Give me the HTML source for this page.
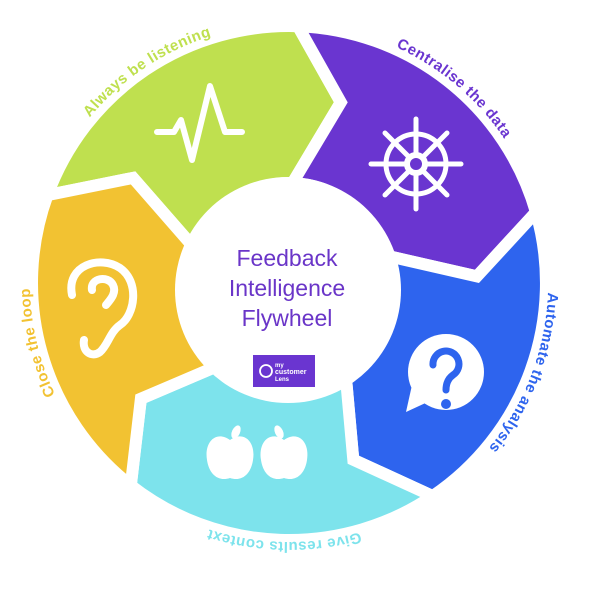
<!DOCTYPE html>
<html><head><meta charset="utf-8"><style>
html,body{margin:0;padding:0;background:#fff;}
svg{display:block;}
</style></head><body>
<svg id="s" width="603" height="591" viewBox="0 0 603 591" xmlns="http://www.w3.org/2000/svg">
<g id="segs"></g>
<circle cx="288" cy="290" r="113" fill="#fff"/>
<defs><path id="ring" d="M289,24 A259,259 0 1 1 289,542 A259,259 0 1 1 289,24"/></defs>
<g font-family="Liberation Sans, sans-serif" font-weight="bold" font-size="15" letter-spacing="0.5">
<text fill="#bfe04f" text-anchor="middle"><textPath href="#ring" startOffset="90.6%">Always be listening</textPath></text>
<text fill="#6a35d0" text-anchor="middle"><textPath href="#ring" startOffset="11.2%">Centralise the data</textPath></text>
<text fill="#2e64ee" text-anchor="middle"><textPath href="#ring" startOffset="30.8%">Automate the analysis</textPath></text>
<text fill="#7de3ec" text-anchor="middle"><textPath href="#ring" startOffset="50.3%">Give results context</textPath></text>
<text fill="#f2c232" text-anchor="middle"><textPath href="#ring" startOffset="71.3%">Close the loop</textPath></text>
</g>
<g font-family="Liberation Sans, sans-serif" font-size="23" fill="#6a35c8" text-anchor="middle">
<text x="287" y="266">Feedback</text>
<text x="287" y="296">Intelligence</text>
<text x="287" y="326">Flywheel</text>
</g>
<rect x="253" y="355" width="62" height="32" fill="#6a35d0"/>
<circle cx="266" cy="371" r="6" fill="none" stroke="#fff" stroke-width="1.8"/>
<text x="275" y="367" font-family="Liberation Sans, sans-serif" font-size="6" font-weight="bold" fill="#fff">my</text>
<text x="275" y="374" font-family="Liberation Sans, sans-serif" font-size="7" font-weight="bold" fill="#fff">customer</text>
<text x="275" y="381" font-family="Liberation Sans, sans-serif" font-size="6" font-weight="bold" fill="#fff">Lens</text>
<!-- pulse -->
<polyline points="157,132 174,132 181,120 192,160 210,86 225,132 242,132" fill="none" stroke="#fff" stroke-width="6" stroke-linecap="round" stroke-linejoin="round"/>
<!-- wheel -->
<g stroke="#fff" stroke-width="5" stroke-linecap="round" fill="none">
<circle cx="416" cy="164" r="30"/>
<line x1="416" y1="119" x2="416" y2="209"/>
<line x1="371" y1="164" x2="461" y2="164"/>
<line x1="385" y1="133" x2="447" y2="195"/>
<line x1="447" y1="133" x2="385" y2="195"/>
</g>
<circle cx="416" cy="164" r="12" fill="#fff"/>
<circle cx="416" cy="164" r="6" fill="#6a35d0"/>
<!-- question bubble -->
<circle cx="446" cy="372" r="38" fill="#fff"/>
<polygon points="412,385 406,412 432,400" fill="#fff"/>
<path d="M433,365 A13,13 0 1 1 453,375 Q446,380 446,390" fill="none" stroke="#2e64ee" stroke-width="7" stroke-linecap="round"/>
<circle cx="446" cy="404" r="5" fill="#2e64ee"/>
<!-- apples -->
<g fill="#fff">
<path d="M230,440 C216,430 204,442 207,460 C209,474 218,482 230,478 C242,482 251,474 253,460 C256,442 244,430 230,440Z"/>
<ellipse cx="236" cy="432" rx="4" ry="7" transform="rotate(25 236 432)"/>
<path d="M284,440 C270,430 258,442 261,460 C263,474 272,482 284,478 C296,482 305,474 307,460 C310,442 298,430 284,440Z"/>
<ellipse cx="279" cy="432" rx="4" ry="7" transform="rotate(-25 279 432)"/>
</g>
<!-- ear -->
<path d="M72,295 C66,265 100,255 120,268 C140,282 135,315 120,325 C110,332 108,345 100,352 C92,358 82,352 84,340 M92,290 C90,278 108,275 113,285 C117,293 110,300 106,305" fill="none" stroke="#fff" stroke-width="8" stroke-linecap="round" stroke-linejoin="round"/>
</svg>
<script>
(function(){
var cx=289,cy=283,R=257,ri=100,Rm=188,d=14;
var B=[2,74,146,218,290];
var C=["#bfe04f","#6a35d0","#2e64ee","#7de3ec","#f2c232"];
function P(a,r){a=a*Math.PI/180;return (cx+r*Math.sin(a)).toFixed(1)+","+(cy-r*Math.cos(a)).toFixed(1);}
var g=document.getElementById("segs"),h="";
for(var i=0;i<5;i++){
 var a0=(i==0?290-360:B[i-1]), a1=B[i];
 var p="M"+P(a0,R)+" A"+R+","+R+" 0 0 1 "+P(a1,R)+" L"+P(a1+d,Rm)+" L"+P(a1,ri)+" A"+ri+","+ri+" 0 0 0 "+P(a0,ri)+" L"+P(a0+d,Rm)+" Z";
 h+='<path d="'+p+'" fill="'+C[i]+'" stroke="#fff" stroke-width="12" stroke-linejoin="miter"/>';
}
g.innerHTML=h;
})();
</script>
</body></html>
